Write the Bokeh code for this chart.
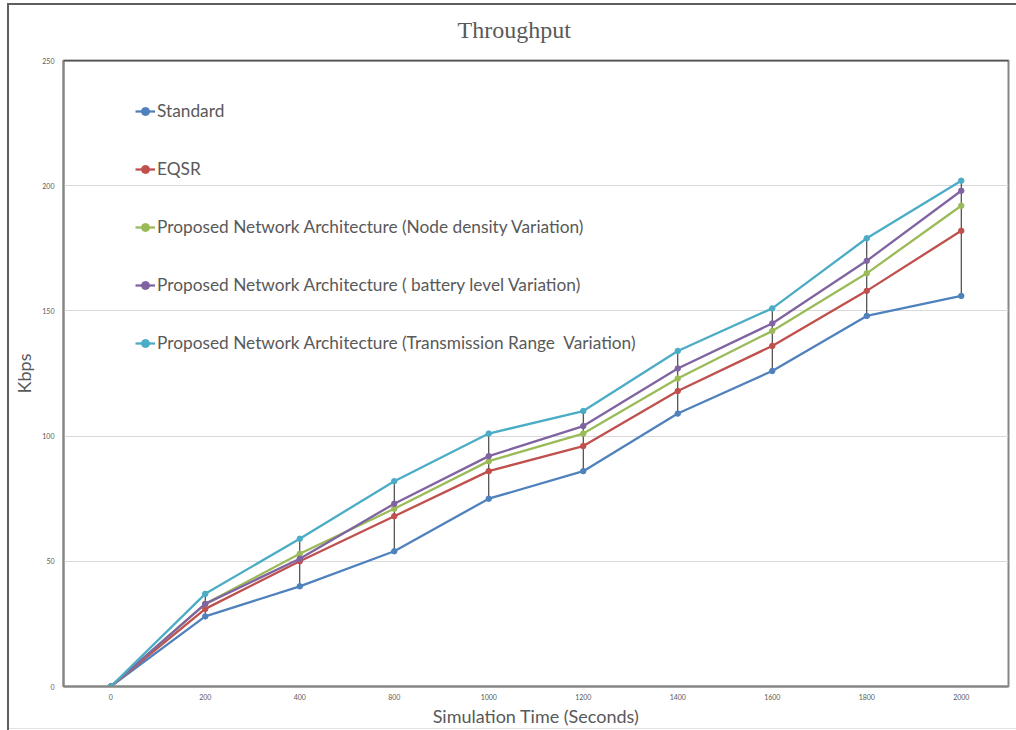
from bokeh.plotting import figure
from bokeh.models import Range1d, FactorRange, Span, Legend, LegendItem
from bokeh.embed import file_html
from bokeh.resources import INLINE
import numpy as np

# ---- data ----
times = ["0", "200", "400", "800", "1000", "1200", "1400", "1600", "1800", "2000"]
standard = [0, 28, 40, 54, 75, 86, 109, 126, 148, 156]
eqsr = [0, 31, 50, 68, 86, 96, 118, 136, 158, 182]
node_density = [0, 33, 53, 71, 90, 101, 123, 142, 165, 192]
battery_level = [0, 33, 51, 73, 92, 104, 127, 145, 170, 198]
transmission_range = [0, 37, 59, 82, 101, 110, 134, 151, 179, 202]
y_ticks = [0, 50, 100, 150, 200, 250]

series = [
    ("Standard", standard, "#4F81BD"),
    ("EQSR", eqsr, "#C0504D"),
    ("Proposed Network Architecture (Node density Variation)", node_density, "#9BBB59"),
    ("Proposed Network Architecture ( battery level Variation)", battery_level, "#8064A2"),
    ("Proposed Network Architecture (Transmission Range  Variation)", transmission_range, "#4BACC6"),
]

TXT = "#595959"
SANS = "Lato"

p = figure(width=1016, height=730, x_range=FactorRange(*times, range_padding=0),
           y_range=Range1d(0, 250), output_backend="svg", toolbar_location=None,
           min_border_left=63, min_border_right=8, min_border_top=60, min_border_bottom=44)
p.border_fill_alpha = 0
p.background_fill_color = "white"
p.styles = {
    "background-color": "white",
    "background-image": "linear-gradient(#5f5f5f,#5f5f5f), linear-gradient(#5f5f5f,#5f5f5f), linear-gradient(#e3e3e3,#e3e3e3)",
    "background-size": "2px 100%, 100% 2px, 100% 1px",
    "background-position": "7px 3px, 7px 3px, 9px 728px",
    "background-repeat": "no-repeat",
}

# chart title
p.title.text = "Throughput"
p.title.text_font = "Liberation Serif"
p.title.text_font_size = "24px"
p.title.text_font_style = "normal"
p.title.text_color = TXT
p.title.align = "left"
p.title.vertical_align = "top"
p.title.offset = 394
p.title.standoff = 32

p.outline_line_color = "#868686"
p.outline_line_width = 2

p.xgrid.grid_line_color = None
p.ygrid.grid_line_color = "#d9d9d9"
p.ygrid.grid_line_width = 1

for ax in (p.xaxis, p.yaxis):
    ax.axis_line_color = "#868686"
    ax.axis_line_width = 2
    ax.major_tick_line_color = None
    ax.minor_tick_line_color = None
    ax.major_label_text_font = SANS
    ax.major_label_text_font_size = "7px"
    ax.major_label_text_color = TXT
    ax.axis_label_text_font = SANS
    ax.axis_label_text_font_style = "normal"
    ax.axis_label_text_font_size = "18px"
    ax.axis_label_text_color = TXT

p.yaxis.ticker = y_ticks
p.yaxis.major_label_standoff = 3
p.yaxis.axis_label = "Kbps"
p.yaxis.axis_label_standoff = 4
p.xaxis.axis_label = "Simulation Time (Seconds)"
p.xaxis.major_label_standoff = 1
p.xaxis.axis_label_standoff = 2

p.add_layout(Span(location=250, dimension="width", line_color="#222222", line_width=1.5))

# high-low lines
all_vals = np.array([s[1] for s in series])
p.segment(x0=times, y0=all_vals.min(axis=0).tolist(), x1=times, y1=all_vals.max(axis=0).tolist(),
          line_color="#222222", line_width=1)

items = []
for name, vals, color in series:
    r1 = p.line(times, vals, line_color=color, line_width=2.3)
    r2 = p.scatter(times, vals, size=5.5, fill_color=color, line_color=color)
    items.append(LegendItem(label=name, renderers=[r1, r2]))

legend = Legend(items=items, location=(72, 333), orientation="vertical",
                glyph_width=20, glyph_height=20, label_height=20, spacing=37,
                label_standoff=2, padding=0, margin=0,
                border_line_color=None, background_fill_alpha=0,
                label_text_font=SANS, label_text_font_size="17.3px", label_text_color=TXT)
p.add_layout(legend, "center")

open("out.html", "w").write(file_html(p, INLINE))
